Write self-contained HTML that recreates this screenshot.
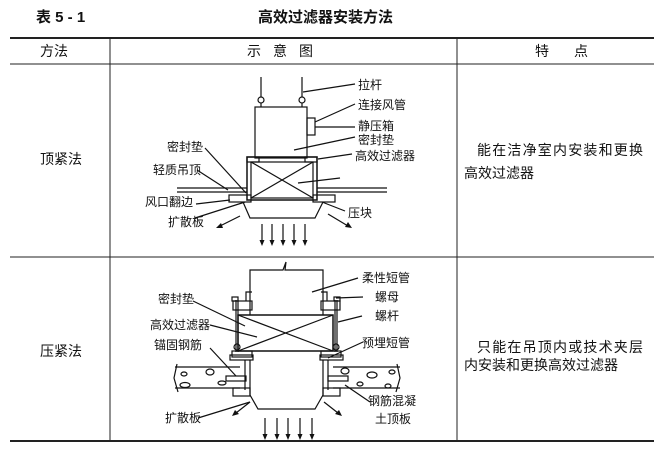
<!DOCTYPE html>
<html><head><meta charset="utf-8"><style>
html,body{margin:0;padding:0;background:#fff}
svg{display:block}
text{font-family:"Liberation Sans","Noto Sans CJK SC",sans-serif;fill:#111}
</style></head><body>
<svg width="664" height="456" viewBox="0 0 664 456" xmlns="http://www.w3.org/2000/svg">
<g font-weight="bold" font-size="15">
<text x="36" y="22">表 5 - 1</text>
<text x="258" y="22">高效过滤器安装方法</text>
</g>
<!-- table lines -->
<g stroke="#222" fill="none">
<line x1="10" y1="38" x2="654" y2="38" stroke-width="2"/>
<line x1="10" y1="64" x2="654" y2="64" stroke-width="1"/>
<line x1="10" y1="257" x2="654" y2="257" stroke-width="1"/>
<line x1="10" y1="441" x2="654" y2="441" stroke-width="2"/>
<line x1="110" y1="38" x2="110" y2="441"/>
<line x1="457" y1="38" x2="457" y2="441"/>
</g>
<g font-size="14">
<text x="40" y="56">方法</text>
<text x="247" y="56" letter-spacing="12">示意图</text>
<text x="535" y="56">特</text><text x="574" y="56">点</text>
<text x="40" y="164">顶紧法</text>
<text x="40" y="356">压紧法</text>
<text x="477" y="155" letter-spacing="1.2">能在洁净室内安装和更换</text>
<text x="464" y="178">高效过滤器</text>
<text x="477" y="352" letter-spacing="1.2">只能在吊顶内或技术夹层</text>
<text x="464" y="370">内安装和更换高效过滤器</text>
</g>

<!-- top diagram -->
<g stroke="#111" fill="none" stroke-width="1.2">
<line x1="261" y1="77" x2="261" y2="97"/><circle cx="261" cy="100" r="3"/>
<line x1="302" y1="77" x2="302" y2="97"/><circle cx="302" cy="100" r="3"/>
<line x1="261" y1="103" x2="261" y2="107"/><line x1="302" y1="103" x2="302" y2="107"/>
<rect x="255" y="107" width="52" height="51"/>
<rect x="307" y="118" width="8" height="17"/>
<line x1="177" y1="188" x2="247" y2="188"/><line x1="177" y1="192" x2="247" y2="192"/>
<line x1="317" y1="188" x2="387" y2="188"/><line x1="317" y1="192" x2="387" y2="192"/>
<rect x="247" y="157" width="70" height="43" stroke-width="1.5"/>
<rect x="251" y="162" width="62" height="36"/>
<line x1="251" y1="162" x2="313" y2="198"/><line x1="313" y1="162" x2="251" y2="198"/>
<rect x="247" y="157" width="12" height="5"/><rect x="305" y="157" width="12" height="5"/>
<rect x="229" y="195" width="22" height="7"/><rect x="313" y="195" width="22" height="7"/>
<path d="M243 202 L250 218 L315 218 L323 202"/>
<g>
<line x1="262" y1="224" x2="262" y2="242"/><line x1="272" y1="224" x2="272" y2="242"/>
<line x1="283" y1="224" x2="283" y2="242"/><line x1="294" y1="224" x2="294" y2="242"/>
<line x1="305" y1="224" x2="305" y2="242"/>
<line x1="240" y1="216" x2="220" y2="226"/><line x1="328" y1="214" x2="348" y2="226"/>
</g>
<!-- leaders -->
<line x1="303" y1="92" x2="355" y2="84"/>
<line x1="315" y1="122" x2="355" y2="104"/>
<line x1="315" y1="127" x2="355" y2="127"/>
<line x1="294" y1="150" x2="355" y2="137"/>
<line x1="318" y1="159" x2="352" y2="154"/>
<line x1="298" y1="183" x2="340" y2="178"/>
<line x1="205" y1="148" x2="246" y2="193"/>
<line x1="197" y1="170" x2="228" y2="190"/>
<line x1="196" y1="204" x2="230" y2="200"/>
<line x1="195" y1="218" x2="245" y2="202"/>
<line x1="322" y1="202" x2="345" y2="211"/>
</g>
<g fill="#111">
<polygon points="262,246 259.5,240 264.5,240"/><polygon points="272,246 269.5,240 274.5,240"/>
<polygon points="283,246 280.5,240 285.5,240"/><polygon points="294,246 291.5,240 296.5,240"/>
<polygon points="305,246 302.5,240 307.5,240"/>
<polygon points="216,228 221,223 223,228"/><polygon points="352,228 345,227 348,222"/>
</g>
<g font-size="12">
<text x="358" y="89">拉杆</text>
<text x="358" y="109">连接风管</text>
<text x="358" y="130">静压箱</text>
<text x="358" y="144">密封垫</text>
<text x="355" y="160">高效过滤器</text>
<text x="167" y="151">密封垫</text>
<text x="153" y="174">轻质吊顶</text>
<text x="145" y="206">风口翻边</text>
<text x="168" y="226">扩散板</text>
<text x="348" y="217">压块</text>
</g>

<!-- bottom diagram -->
<g stroke="#111" fill="none" stroke-width="1.2">
<path d="M250 315 L250 270 L283 270 L286 262 L285 270 L323 270 L323 315"/>
<rect x="238" y="315" width="95" height="36" stroke-width="1.5"/>
<line x1="238" y1="315" x2="333" y2="351"/><line x1="333" y1="315" x2="238" y2="351"/>
<line x1="236" y1="300" x2="236" y2="352"/><line x1="238" y1="300" x2="238" y2="352"/>
<line x1="335" y1="300" x2="335" y2="352"/><line x1="337" y1="300" x2="337" y2="352"/>
<circle cx="237" cy="347" r="3"/><circle cx="336" cy="347" r="3"/>
<rect x="233" y="301" width="19" height="9"/><rect x="321" y="301" width="19" height="9"/>
<path d="M246 301 L246 292 L252 292"/><path d="M327 301 L327 292 L321 292"/>
<rect x="232" y="297" width="6" height="4"/><rect x="334" y="297" width="6" height="4"/>
<rect x="232" y="351" width="20" height="6"/><rect x="321" y="351" width="20" height="6"/>
<rect x="230" y="355" width="23" height="5"/><rect x="320" y="355" width="23" height="5"/>
<line x1="245" y1="360" x2="245" y2="390"/><line x1="328" y1="360" x2="328" y2="390"/>
<path d="M250 360 L250 395 L258 409 L315 409 L323 395 L323 360"/>
<line x1="175" y1="367" x2="240" y2="367"/><line x1="175" y1="388" x2="240" y2="388"/>
<line x1="333" y1="367" x2="400" y2="367"/><line x1="333" y1="388" x2="400" y2="388"/>
<path d="M177 364 L174 378 L178 392"/><path d="M397 364 L400 378 L396 392"/>
<rect x="226" y="376" width="20" height="5"/><rect x="328" y="376" width="20" height="5"/>
<rect x="233" y="388" width="17" height="8"/><rect x="323" y="388" width="17" height="8"/>
<ellipse cx="210" cy="372" rx="4" ry="3"/><ellipse cx="184" cy="374" rx="3" ry="2"/>
<ellipse cx="185" cy="385" rx="5" ry="2.5"/><ellipse cx="222" cy="383" rx="4" ry="2"/>
<ellipse cx="345" cy="371" rx="4" ry="3"/><ellipse cx="372" cy="375" rx="5" ry="3"/>
<ellipse cx="392" cy="372" rx="3" ry="2"/><ellipse cx="360" cy="384" rx="3" ry="2"/>
<ellipse cx="388" cy="386" rx="3" ry="2"/>
<line x1="265" y1="418" x2="265" y2="436"/><line x1="277" y1="418" x2="277" y2="436"/>
<line x1="288" y1="418" x2="288" y2="436"/><line x1="300" y1="418" x2="300" y2="436"/>
<line x1="312" y1="418" x2="312" y2="436"/>
<line x1="250" y1="402" x2="236" y2="413"/><line x1="324" y1="402" x2="338" y2="413"/>
<!-- leaders -->
<line x1="312" y1="292" x2="358" y2="278"/>
<line x1="336" y1="298" x2="363" y2="297"/>
<line x1="338" y1="322" x2="362" y2="316"/>
<line x1="328" y1="358" x2="363" y2="342"/>
<line x1="345" y1="385" x2="370" y2="402"/>
<line x1="193" y1="301" x2="245" y2="326"/>
<line x1="210" y1="325" x2="257" y2="337"/>
<line x1="210" y1="348" x2="236" y2="376"/>
<line x1="198" y1="418" x2="250" y2="402"/>
</g>
<g fill="#111">
<polygon points="265,440 262.5,434 267.5,434"/><polygon points="277,440 274.5,434 279.5,434"/>
<polygon points="288,440 285.5,434 290.5,434"/><polygon points="300,440 297.5,434 302.5,434"/>
<polygon points="312,440 309.5,434 314.5,434"/>
<polygon points="232,416 235,410 239,414"/><polygon points="342,416 335,414 339,410"/>
</g>
<g font-size="12">
<text x="362" y="282">柔性短管</text>
<text x="375" y="301">螺母</text>
<text x="375" y="320">螺杆</text>
<text x="362" y="347">预埋短管</text>
<text x="368" y="405">钢筋混凝</text>
<text x="375" y="423">土顶板</text>
<text x="158" y="303">密封垫</text>
<text x="150" y="329">高效过滤器</text>
<text x="154" y="349">锚固钢筋</text>
<text x="165" y="422">扩散板</text>
</g>
</svg>
</body></html>
